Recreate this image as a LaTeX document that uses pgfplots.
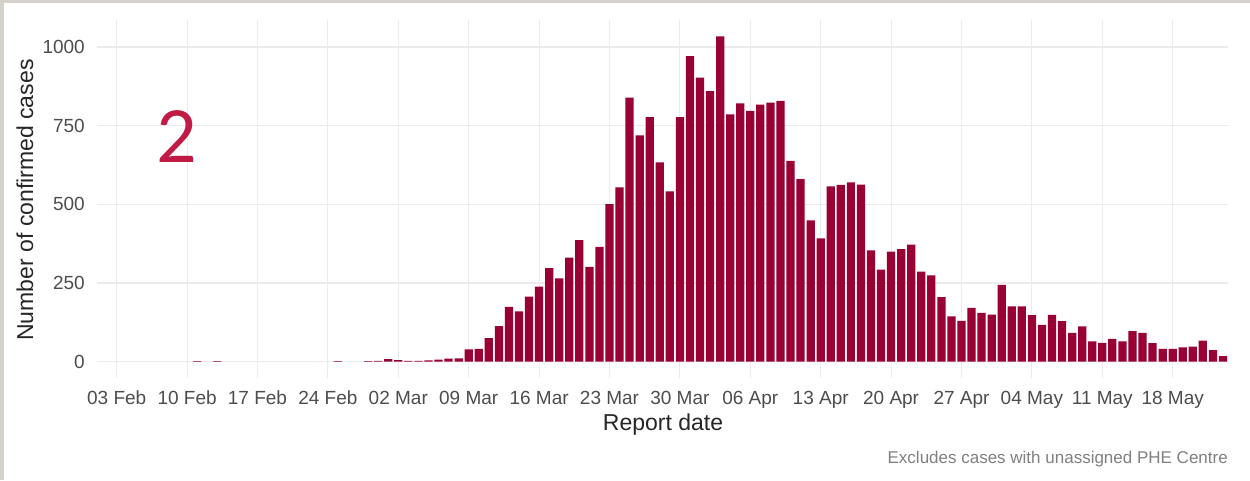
\documentclass[border=0pt]{standalone}
\usepackage{fontspec}
\setmainfont{Liberation Sans}
\newfontfamily\numfont{Carlito}
\usepackage{pgfplots}
\pgfplotsset{compat=1.18}
\definecolor{barred}{HTML}{990033}
\definecolor{bigred}{HTML}{BF1B44}
\definecolor{bordergrey}{HTML}{D5D2CB}
\definecolor{gridgrey}{HTML}{EBEBEB}
\definecolor{ticktext}{HTML}{4D4D4D}
\definecolor{captext}{HTML}{808080}
\begin{document}
\begin{tikzpicture}[x=1pt,y=1pt]
\path[use as bounding box, fill=white] (0,0) rectangle (1250,480);
\fill[bordergrey] (0,477) rectangle (1250,480);
\fill[bordergrey] (0,0) rectangle (4,480);
\begin{axis}[
  at={(97pt,102pt)}, anchor=south west,
  scale only axis, width=1131pt, height=358pt,
  xmin=-1.96, xmax=110.5, ymin=-51.7, ymax=1085.7,
  axis line style={draw=none},
  major tick length=0pt,
  xtick={0,7,...,105},
  xticklabels={03 Feb,10 Feb,17 Feb,24 Feb,02 Mar,09 Mar,16 Mar,23 Mar,30 Mar,06 Apr,13 Apr,20 Apr,27 Apr,04 May,11 May,18 May},
  ytick={0,250,500,750,1000},
  scaled y ticks=false,
  /pgf/number format/1000 sep={},
  /pgf/number format/assume math mode=true,
  grid=major,
  major grid style={color=gridgrey, line width=1.1pt},
  xticklabel style={font=\fontsize{19}{19}\selectfont, text=ticktext, anchor=north, inner sep=0pt, yshift=-13pt},
  yticklabel style={font=\fontsize{19}{19}\selectfont, text=ticktext, anchor=east, inner sep=0pt, xshift=-12pt},
  ybar, bar width=0.82,
]
\addplot[fill=barred, draw=none] coordinates {
(8,2) (10,2) (22,2) (25,2) (26,3) (27,8) (28,5) (29,3) (30,3) (31,4) (32,7) (33,10) (34,11)
(35,39) (36,41) (37,75) (38,113) (39,174) (40,160) (41,207) (42,239) (43,297) (44,265) (45,331)
(46,386) (47,301) (48,365) (49,501) (50,554) (51,839) (52,719) (53,777) (54,633) (55,541)
(56,777) (57,971) (58,903) (59,860) (60,1034) (61,786) (62,821) (63,797) (64,817) (65,823)
(66,829) (67,638) (68,580) (69,449) (70,392) (71,557) (72,562) (73,570) (74,563) (75,354)
(76,293) (77,350) (78,358) (79,372) (80,286) (81,274) (82,205) (83,144) (84,130) (85,171)
(86,155) (87,150) (88,244) (89,176) (90,176) (91,148) (92,117) (93,149) (94,129) (95,92)
(96,112) (97,65) (98,60) (99,73) (100,65) (101,97) (102,92) (103,59) (104,41) (105,41)
(106,46) (107,48) (108,67) (109,37) (110,18)
};
\end{axis}
\node[anchor=base, rotate=90, inner sep=0pt, font=\fontsize{23}{23}\selectfont, text=black!85] at (33,280) {Number of confirmed cases};
\node[anchor=base, inner sep=0pt, font=\fontsize{23}{23}\selectfont, text=black!85] at (663,50) {Report date};
\node[anchor=base east, inner sep=0pt, font=\fontsize{17}{17}\selectfont, text=captext] at (1228,17) {Excludes cases with unassigned PHE Centre};
\node[anchor=base, inner sep=0pt, font=\numfont\fontsize{80}{80}\selectfont, text=bigred] at (177,317) {2};
\end{tikzpicture}
\end{document}
